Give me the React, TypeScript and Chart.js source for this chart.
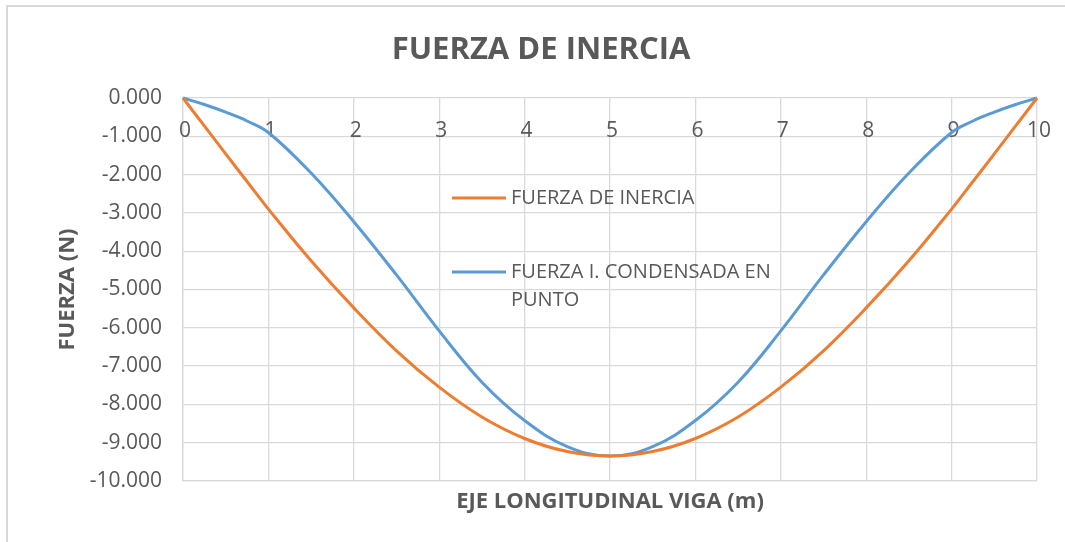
import { useEffect, useRef } from "react";
import { Chart, registerables } from "chart.js";

Chart.register(...registerables);

const TITLE = "FUERZA DE INERCIA";
const X_TITLE = "EJE LONGITUDINAL VIGA (m)";
const Y_TITLE = "FUERZA (N)";

const X_POSITIONS = [0, 0.25, 0.5, 0.75, 1, 1.5, 2, 2.5, 3, 3.5, 4, 4.5, 5, 5.5, 6, 6.5, 7, 7.5, 8, 8.5, 9, 9.25, 9.5, 9.75, 10];
const FUERZA_INERCIA = [0, -730, -1460, -2180, -2900, -4250, -5480, -6600, -7550, -8330, -8890, -9230, -9350, -9230, -8890, -8330, -7550, -6600, -5480, -4250, -2900, -2180, -1460, -730, 0];
const FUERZA_CONDENSADA = [0, -170, -370, -600, -900, -1960, -3230, -4620, -6080, -7420, -8420, -9100, -9350, -9100, -8420, -7420, -6080, -4620, -3230, -1960, -900, -600, -370, -170, 0];

const X_TICKS = [0, 1, 2, 3, 4, 5, 6, 7, 8, 9, 10];
const LEGEND_INERCIA = ["FUERZA DE INERCIA"];
const LEGEND_CONDENSADA = ["FUERZA I. CONDENSADA EN", "PUNTO"];

const ORANGE = "#ED7D31";
const BLUE = "#5B9BD5";
const TEXT = "#595959";
const GRID = "#D9D9D9";
const FONT = "'Open Sans', sans-serif";

const overlay = {
  id: "overlay",
  beforeDraw(chart: any) {
    const ctx = chart.ctx;
    ctx.save();
    ctx.fillStyle = "#ffffff";
    ctx.fillRect(0, 0, chart.width, chart.height);
    ctx.strokeStyle = GRID;
    ctx.lineWidth = 2;
    ctx.beginPath();
    ctx.moveTo(7, chart.height);
    ctx.lineTo(7, 6);
    ctx.lineTo(chart.width, 6);
    ctx.stroke();
    ctx.restore();
  },
  beforeDatasetsDraw(chart: any) {
    const ctx = chart.ctx;
    const xs = chart.scales.x;
    const ys = chart.scales.y;
    ctx.save();
    ctx.fillStyle = TEXT;
    ctx.font = `21px ${FONT}`;
    ctx.textAlign = "center";
    ctx.textBaseline = "middle";
    const y0 = ys.getPixelForValue(0) + 33;
    X_TICKS.forEach((v) => {
      ctx.fillText(String(v), xs.getPixelForValue(v) + 2, y0);
    });
    ctx.restore();
  },
  afterDraw(chart: any) {
    const ctx = chart.ctx;
    const ca = chart.chartArea;
    ctx.save();
    ctx.fillStyle = TEXT;
    ctx.font = `bold 31px ${FONT}`;
    ctx.textAlign = "center";
    ctx.textBaseline = "middle";
    ctx.fillText(TITLE, 541, 50);

    const lx = ca.left + 269;
    const lw = 54;
    const tx = lx + lw + 5;
    const entries: [string, string[], number][] = [
      [ORANGE, LEGEND_INERCIA, ca.top + 100],
      [BLUE, LEGEND_CONDENSADA, ca.top + 174],
    ];
    ctx.font = `20px ${FONT}`;
    ctx.textAlign = "left";
    entries.forEach(([color, lines, y]) => {
      ctx.strokeStyle = color;
      ctx.lineWidth = 3;
      ctx.beginPath();
      ctx.moveTo(lx, y);
      ctx.lineTo(lx + lw, y);
      ctx.stroke();
      ctx.fillStyle = TEXT;
      lines.forEach((t, i) => ctx.fillText(t, tx, y + i * 28));
    });
    ctx.restore();
  },
};

export default function App() {
  const ref = useRef<HTMLCanvasElement | null>(null);

  useEffect(() => {
    if (!ref.current) return;
    const chart = new Chart(ref.current, {
      type: "line",
      data: {
        datasets: [
          {
            label: LEGEND_INERCIA.join(" "),
            data: X_POSITIONS.map((x, i) => ({ x, y: FUERZA_INERCIA[i] })),
            borderColor: ORANGE,
            backgroundColor: ORANGE,
            borderWidth: 3,
            pointRadius: 0,
            tension: 0.4,
            clip: false,
          },
          {
            label: LEGEND_CONDENSADA.join(" "),
            data: X_POSITIONS.map((x, i) => ({ x, y: FUERZA_CONDENSADA[i] })),
            borderColor: BLUE,
            backgroundColor: BLUE,
            borderWidth: 3,
            pointRadius: 0,
            tension: 0.4,
            clip: false,
          },
        ],
      },
      options: {
        animation: false,
        responsive: false,
        maintainAspectRatio: false,
        layout: { padding: { top: 98, right: 28, bottom: 0, left: 0 } },
        plugins: {
          legend: { display: false },
          title: { display: false },
          tooltip: { enabled: false },
        },
        scales: {
          x: {
            type: "linear",
            min: 0,
            max: 10,
            ticks: { display: false, stepSize: 1 },
            grid: { color: GRID, lineWidth: 1.3, drawTicks: false },
            border: { color: GRID, width: 1.3 },
            title: {
              display: true,
              text: X_TITLE,
              color: TEXT,
              font: { family: FONT, size: 22, weight: "bold" },
              padding: { top: 0, bottom: 27 },
            },
            afterFit(scale: any) {
              scale.height = 61;
            },
          },
          y: {
            type: "linear",
            min: -10000,
            max: 0,
            ticks: {
              stepSize: 1000,
              padding: 21,
              color: TEXT,
              font: { family: FONT, size: 21 },
              callback: (v: any) => (Number(v) / 1000).toFixed(3),
            },
            grid: { color: GRID, lineWidth: 1.3, drawTicks: false },
            border: { color: GRID, width: 1.3 },
            title: {
              display: true,
              text: Y_TITLE,
              color: TEXT,
              font: { family: FONT, size: 22, weight: "bold" },
              padding: { top: 55, bottom: 0 },
            },
            afterFit(scale: any) {
              scale.width = 183;
            },
          },
        },
      },
      plugins: [overlay],
    } as any);
    return () => chart.destroy();
  }, []);

  return (
    <div style={{ position: "fixed", left: 0, top: 0, width: 1065, height: 542, background: "#fff" }}>
      <canvas ref={ref} width={1065} height={542} style={{ width: 1065, height: 542, display: "block" }} />
    </div>
  );
}
